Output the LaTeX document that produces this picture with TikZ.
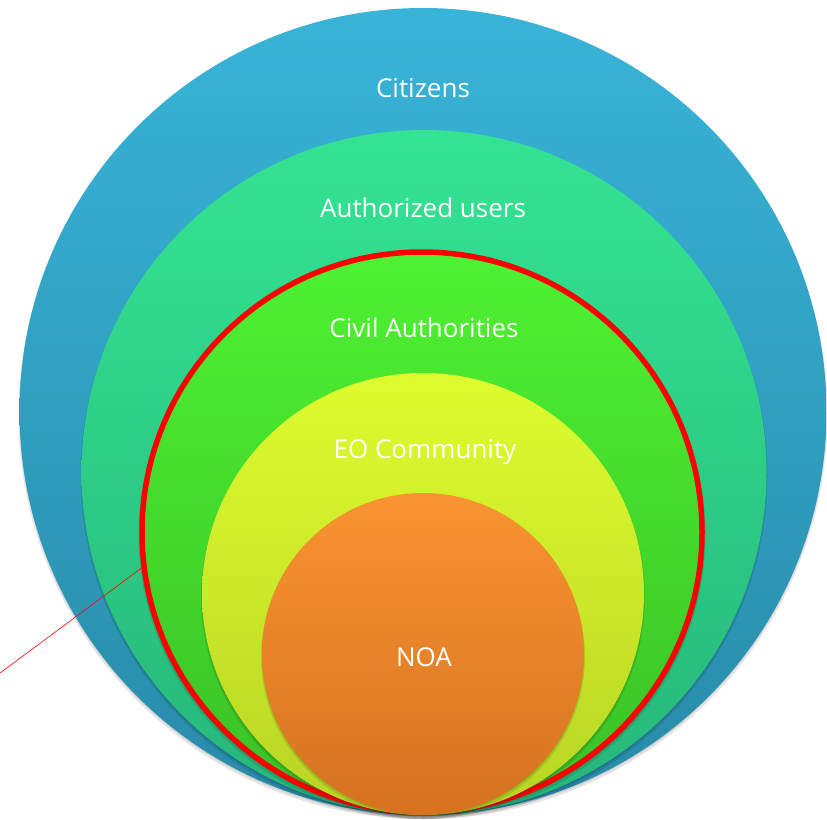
\documentclass[tikz,border=0pt]{standalone}
\usepackage{fontspec}
\setmainfont{Open Sans}
\definecolor{bluetop}{RGB}{56,180,216}
\definecolor{bluebot}{RGB}{40,138,168}
\definecolor{tealtop}{RGB}{52,228,146}
\definecolor{tealbot}{RGB}{38,182,122}
\definecolor{greentop}{RGB}{78,242,50}
\definecolor{greenbot}{RGB}{58,192,38}
\definecolor{yeltop}{RGB}{222,252,46}
\definecolor{yelbot}{RGB}{184,212,36}
\definecolor{orgtop}{RGB}{248,148,48}
\definecolor{orgbot}{RGB}{214,114,32}
\definecolor{redline}{RGB}{255,0,0}
\begin{document}
\begin{tikzpicture}[x=1pt,y=-1pt,
  ring/.style={circle, inner sep=0pt, outer sep=0pt, minimum size=#1},
  lab/.style={text=white, font=\fontsize{26}{31}\selectfont, inner sep=0pt},
  shad/.style={fill=black, opacity=0.10}]
\useasboundingbox (0,0) rectangle (827,819);
% Citizens
\fill[shad] (423,414.5) circle[radius=404.5];
\fill[shad] (423,413) circle[radius=403.5];
\node[ring=807pt, top color=bluetop, bottom color=bluebot] (cit) at (423,411.5) {};
% Authorized users
\fill[shad] (424,475.5) circle[radius=343.5];
\fill[shad] (424,474) circle[radius=342.5];
\node[ring=685pt, top color=tealtop, bottom color=tealbot] (auth) at (424,472.5) {};
% Civil Authorities
\fill[shad] (422,535) circle[radius=283.5];
\fill[shad] (422,533.5) circle[radius=282.5];
\node[ring=560pt, top color=greentop, bottom color=greenbot, draw=redline, line width=5.5pt] (civ) at (422,532) {};
% EO Community
\fill[shad] (423,597) circle[radius=222];
\fill[shad] (423,595.5) circle[radius=221];
\node[ring=442pt, top color=yeltop, bottom color=yelbot] (eo) at (423,594) {};
% NOA
\fill[shad] (423,657) circle[radius=162];
\fill[shad] (423,655.5) circle[radius=161];
\node[ring=322pt, top color=orgtop, bottom color=orgbot] (noa) at (423,654) {};
% labels
\node[lab] (tcit) at (423,88) {Citizens};
\node[lab] (tauth) at (423,208) {Authorized users};
\node[lab] (tciv) at (424,328) {Civil Authorities};
\node[lab] (teo) at (425,452) {EO Community};
\node[lab] (tnoa) at (424,657) {NOA};
% pointer line
\coordinate (tip) at (0,673);
\draw[redline, line width=0.6pt] (tip) -- (civ.187);
\end{tikzpicture}
\end{document}
